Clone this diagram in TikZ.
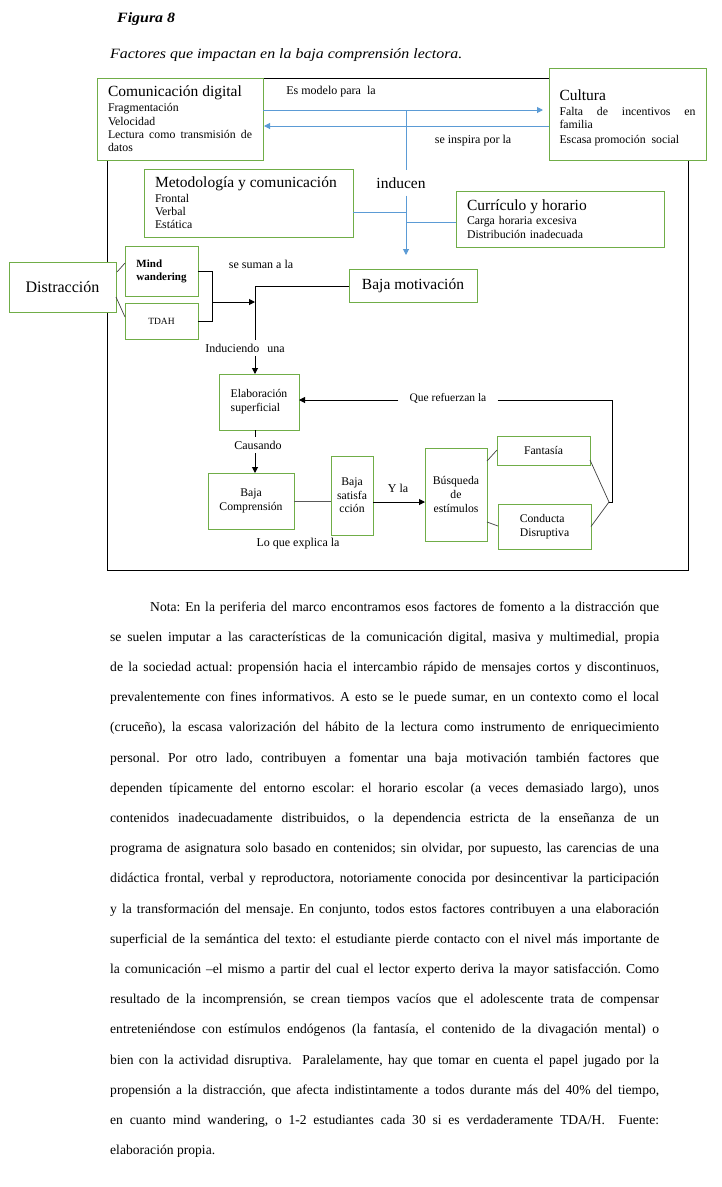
\documentclass[tikz,border=0pt]{standalone}
\usepackage{fontspec}
\setmainfont{Liberation Serif}
\newfontfamily\capfont[FakeStretch=1.12]{Liberation Serif}
\usetikzlibrary{arrows.meta,calc}
\definecolor{boxgreen}{HTML}{70AD47}
\definecolor{lineblue}{HTML}{5B9BD5}
\definecolor{thingray}{HTML}{404040}
\newcommand\fsz[2]{\fontsize{#1}{#2}\selectfont}
\frenchspacing
\begin{document}
\begin{tikzpicture}[x=1pt,y=-1pt,
  gbox/.style={draw=boxgreen, line width=1pt, fill=white, inner sep=0pt, outer sep=0pt, anchor=north west},
  lbl/.style={inner sep=1pt, font=\fsz{12}{13.5}},
  big/.style={font=\fsz{15.5}{17}},
  bluearrow/.style={draw=lineblue, line width=1pt, -{Triangle[length=6pt,width=6pt]}},
  blueline/.style={draw=lineblue, line width=1pt},
  blkarrow/.style={draw=black, line width=1pt, -{Triangle[length=6pt,width=6pt]}},
  blkline/.style={draw=black, line width=1pt},
  thinline/.style={draw=thingray, line width=0.7pt},
]
\useasboundingbox (0,0) rectangle (722,1187);

% caption
\node[anchor=base west, inner sep=0, font=\capfont\fsz{14.2}{16}\bfseries\itshape] (fig) at (117,22) {Figura 8};
\node[anchor=base west, inner sep=0, font=\capfont\fsz{14.2}{16}\itshape] (title) at (110,58) {Factores que impactan en la baja comprensión lectora.};

% frame
\draw[line width=0.8pt] (107,78) rectangle (688,570);

% boxes
\node[gbox, minimum width=166, minimum height=82, text width=144, inner xsep=11, align=justify, font=\fsz{11.8}{13.3}] (comdig) at (97,78)
  {{\fsz{15.5}{17}Comunicación digital}\\[1.5pt] Fragmentación\\ Velocidad\\ Lectura como transmisión de\linebreak datos};
\node[gbox, minimum width=157, minimum height=92, text width=136, inner xsep=10.5, align=justify, font=\fsz{11.8}{13.3}] (cultura) at (549,68)
  {{\fsz{15.5}{17}\rule{0pt}{18pt}Cultura}\\[2pt] Falta de incentivos en\linebreak familia\\[1.5pt] Escasa promoción\ \ social};
\node[gbox, minimum width=209, minimum height=68, text width=187, inner xsep=11, align=left, font=\fsz{11.8}{13.3}] (metod) at (144,169)
  {{\fsz{15.5}{17}Metodología y comunicación}\\[1pt] Frontal\\ Verbal\\ Estática};
\node[gbox, minimum width=208, minimum height=56, text width=186, inner xsep=11, align=left, font=\fsz{11.8}{13.3}] (curric) at (456,191)
  {{\fsz{15.5}{17}Currículo y horario}\\[1pt] Carga horaria excesiva\\ Distribución inadecuada};
\node[gbox, big, minimum width=128, minimum height=33] (bajamot) at (349,269) {Baja motivación};
\node[gbox, font=\fsz{16}{18}, minimum width=107, minimum height=50] (distr) at (9,262) {Distracción};
\node[gbox, minimum width=73, minimum height=50, align=left, font=\fsz{11}{13}\bfseries] (mind) at (125,246) {Mind\\wandering};
\node[gbox, minimum width=73, minimum height=36, font=\fsz{9.5}{11}] (tdah) at (125,303) {TDAH};
\node[gbox, minimum width=80, minimum height=56, align=left, font=\fsz{11.7}{14}] (elab) at (219,374) {Elaboración\\superficial};
\node[gbox, minimum width=86, minimum height=56, align=center, font=\fsz{11.7}{14}] (bcomp) at (208,473) {Baja\\Comprensión};
\node[gbox, minimum width=42, minimum height=79, align=center, font=\fsz{11.7}{13.5}] (bsat) at (331,456) {Baja\\satisfa\\cción};
\node[gbox, minimum width=62, minimum height=93, align=center, font=\fsz{11.7}{14}] (busq) at (425,448) {Búsqueda\\de\\estímulos};
\node[gbox, minimum width=93, minimum height=29, font=\fsz{11.7}{14}] (fant) at (497,436) {Fantasía};
\node[gbox, minimum width=93, minimum height=45, align=left, font=\fsz{11.7}{14}] (cond) at (498,504) {Conducta\\Disruptiva};

% labels
\node[lbl] (esmod) at (331,92) {Es modelo para\ \ la};
\node[lbl] (insp) at (473,141) {se inspira por la};
\node[big, inner xsep=2pt, inner ysep=7pt] (inducen) at (401,183) {inducen};
\node[lbl] (suman) at (261,264) {se suman a la};
\node[lbl, inner ysep=4pt] (induc) at (245,348) {Induciendo\hspace{8pt}una};
\node[lbl, inner xsep=11pt, font=\fsz{11.5}{13}] (refz) at (448,398) {Que refuerzan la};
\node[lbl, inner ysep=4pt] (caus) at (258,445) {Causando};
\node[lbl] (yla) at (398,488) {Y la};
\node[lbl] (explica) at (298,544) {Lo que explica la};

% blue connectors
\coordinate (yA) at (0,110);
\coordinate (yB) at (0,126);
\coordinate (vtop) at (406,110);
\coordinate (vbot) at (406,255);
\coordinate (yM) at (0,212);
\coordinate (yC) at (0,222);
\draw[bluearrow, shorten >=6pt] (comdig.east |- yA) -- (cultura.west |- yA);
\draw[bluearrow, shorten >=1pt] (cultura.west |- yB) -- (comdig.east |- yB);
\draw[blueline] (vtop) -- (vtop |- inducen.north);
\draw[bluearrow] (vtop |- inducen.south) -- (vbot);
\draw[blueline] (metod.east |- yM) -- (vtop |- yM);
\draw[blueline] (vtop |- yC) -- (curric.west |- yC);

% distraction group
\draw[thinline] ($(distr.north east)+(1,10)$) -- ($(mind.west)+(0,-8)$);
\draw[thinline] ($(distr.south east)+(0,-15)$) -- ($(tdah.west)+(0,-4)$);
\coordinate (bx) at (212,0);
\coordinate (jn) at (255,286);
\coordinate (yMid) at (0,302);
\draw[blkline] (mind.east) -- (mind.east -| bx) -- (tdah.east -| bx) -- (tdah.east);
\draw[blkarrow] (bx |- yMid) -- (jn |- yMid);
\draw[blkline] (bajamot.west |- jn) -- (jn) -- (jn |- induc.north);
\draw[blkarrow] (jn |- induc.south) -- (jn |- elab.north);

% lower chain
\coordinate (cx) at (255,0);
\draw[blkline] (elab.south -| cx) -- (caus.north -| cx);
\draw[blkarrow] (caus.south -| cx) -- (bcomp.north -| cx);
\draw[draw=gray!70!black, line width=1pt] (bcomp.east) -- (bcomp.east -| bsat.west);
\coordinate (yY) at (0,502);
\draw[blkarrow] (bsat.east |- yY) -- (busq.west |- yY);
\draw[thinline] ($(busq.north east)+(0,13)$) -- ($(fant.west)+(0,-0.5)$);
\draw[thinline] ($(busq.south east)+(0,-19)$) -- ($(cond.west)+(0,-0.5)$);
\coordinate (yR) at (0,400);
\coordinate (rc) at (612,400);
\coordinate (junc) at (609,502);
\draw[thinline] ($(fant.south east)+(0,-5)$) -- (junc);
\draw[thinline] (cond.east) -- (junc);
\draw[blkline] (refz.east |- yR) -- (rc) -- (rc |- junc) -- (junc);
\draw[blkarrow] (refz.west |- yR) -- (elab.east |- yR);

% note text
\node[anchor=base west, inner sep=0, text width=549, align=justify, font=\fsz{13.6}{30.2}] (nota) at (110,611)
{\tolerance=10000\hyphenpenalty=10000\hspace*{40pt}Nota: En la periferia del marco encontramos esos factores de fomento a la distracción que\linebreak
se suelen imputar a las características de la comunicación digital, masiva y multimedial, propia\linebreak
de la sociedad actual: propensión hacia el intercambio rápido de mensajes cortos y discontinuos,\linebreak
prevalentemente con fines informativos. A esto se le puede sumar, en un contexto como el local\linebreak
(cruceño), la escasa valorización del hábito de la lectura como instrumento de enriquecimiento\linebreak
personal. Por otro lado, contribuyen a fomentar una baja motivación también factores que\linebreak
dependen típicamente del entorno escolar: el horario escolar (a veces demasiado largo), unos\linebreak
contenidos inadecuadamente distribuidos, o la dependencia estricta de la enseñanza de un\linebreak
programa de asignatura solo basado en contenidos; sin olvidar, por supuesto, las carencias de una\linebreak
didáctica frontal, verbal y reproductora, notoriamente conocida por desincentivar la participación\linebreak
y la transformación del mensaje. En conjunto, todos estos factores contribuyen a una elaboración\linebreak
superficial de la semántica del texto: el estudiante pierde contacto con el nivel más importante de\linebreak
la comunicación –el mismo a partir del cual el lector experto deriva la mayor satisfacción. Como\linebreak
resultado de la incomprensión, se crean tiempos vacíos que el adolescente trata de compensar\linebreak
entreteniéndose con estímulos endógenos (la fantasía, el contenido de la divagación mental) o\linebreak
bien con la actividad disruptiva.\ \ Paralelamente, hay que tomar en cuenta el papel jugado por la\linebreak
propensión a la distracción, que afecta indistintamente a todos durante más del 40\% del tiempo,\linebreak
en cuanto mind wandering, o 1-2 estudiantes cada 30 si es verdaderamente TDA/H.\ \ Fuente:\linebreak
elaboración propia.};
\end{tikzpicture}
\end{document}
